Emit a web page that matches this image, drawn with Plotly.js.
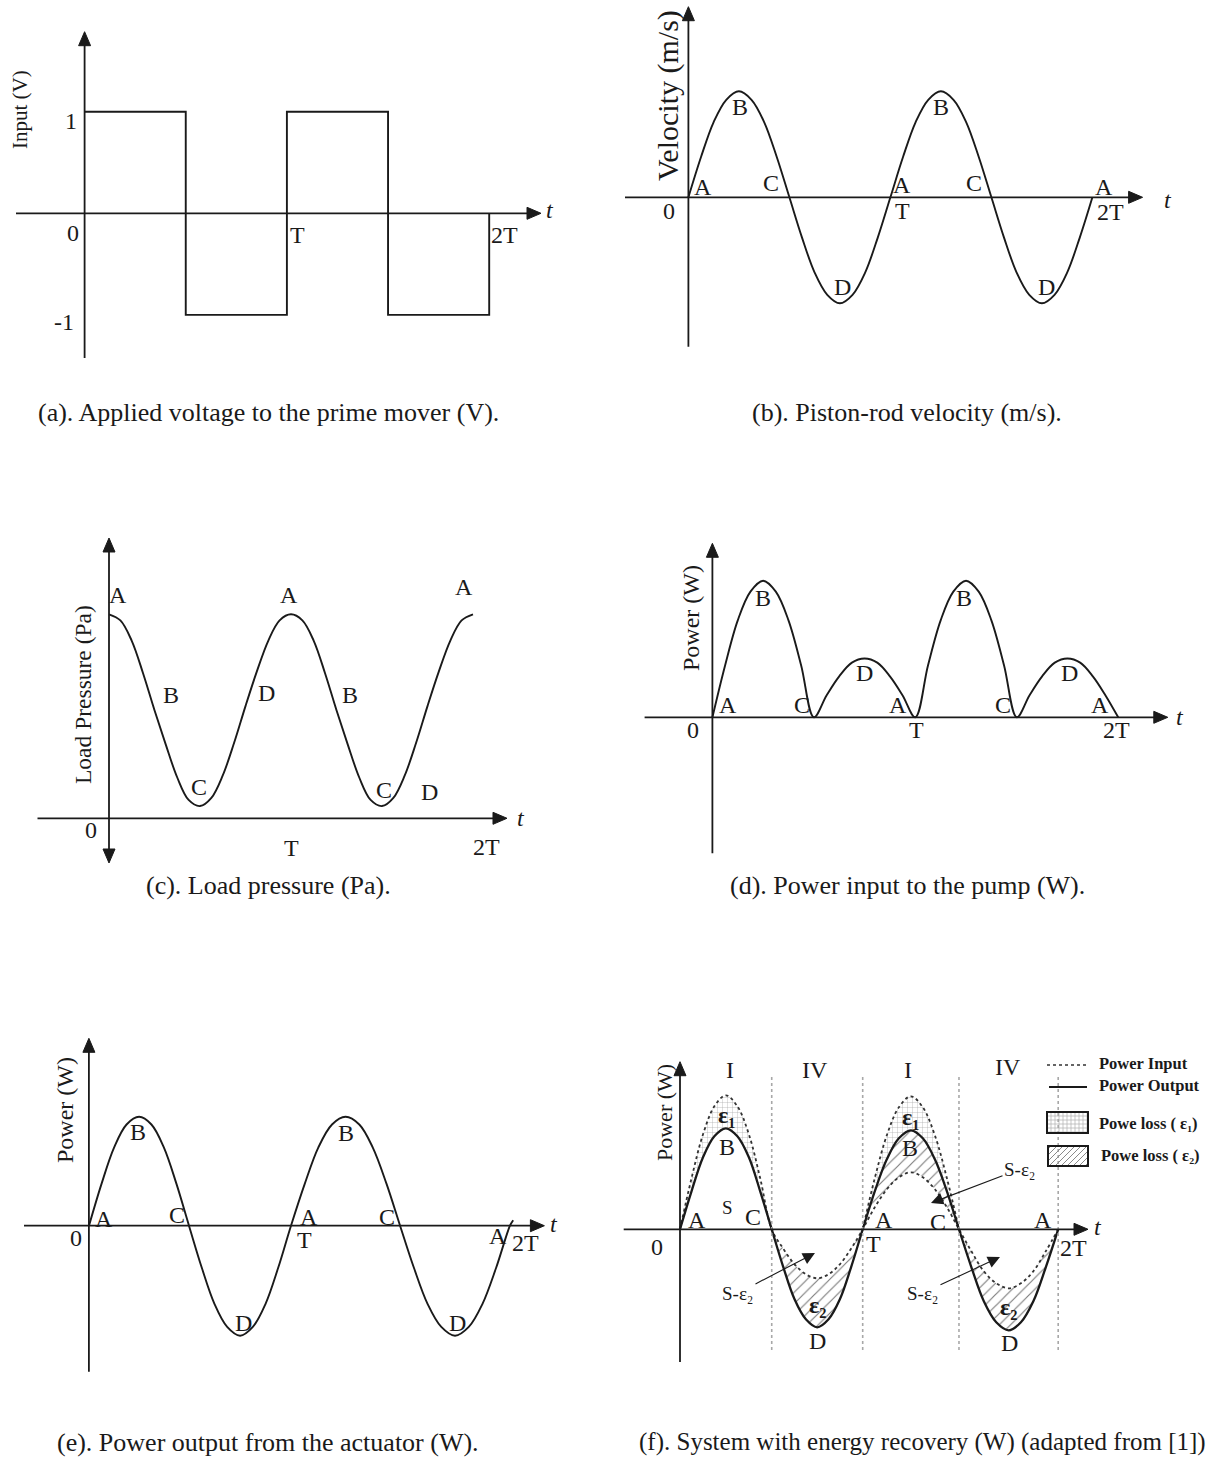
<!DOCTYPE html>
<html><head><meta charset="utf-8">
<script src="https://cdn.plot.ly/plotly-3.0.1.min.js"></script>
<style>html,body{margin:0;padding:0;background:#fff}#chart{width:1207px;height:1459px}</style>
</head><body><div id="chart"></div>
<script>
// ---------------- DATA ----------------
// time in units of the period T
const tA = [0, 0.5, 1, 1.5, 2];
const inputV = [1, -1, 1, -1, 0];

const tUniform = [0,0.0625,0.125,0.1875,0.25,0.3125,0.375,0.4375,0.5,0.5625,0.625,0.6875,0.75,0.8125,0.875,0.9375,1,
  1.0625,1.125,1.1875,1.25,1.3125,1.375,1.4375,1.5,1.5625,1.625,1.6875,1.75,1.8125,1.875,1.9375,2];

const velocity = [0,0.38,0.71,0.92,1,0.92,0.71,0.38,0,-0.38,-0.71,-0.92,-1,-0.92,-0.71,-0.38,0,
  0.38,0.71,0.92,1,0.92,0.71,0.38,0,-0.38,-0.71,-0.92,-1,-0.92,-0.71,-0.38,0];

const pressure = [1.00,0.97,0.87,0.71,0.53,0.36,0.20,0.09,0.06,0.10,0.21,0.37,0.55,0.72,0.87,0.97,1.00,
  0.97,0.87,0.71,0.53,0.36,0.20,0.09,0.06,0.10,0.21,0.37,0.55,0.72,0.87,0.97,1.00];

const powerIn = [0,0.38,0.71,0.92,1,0.92,0.71,0.38,0,0.16,0.30,0.40,0.43,0.40,0.30,0.16,0,
  0.38,0.71,0.92,1,0.92,0.71,0.38,0,0.16,0.30,0.40,0.43,0.40,0.30,0.16,0];

const tE = [0,0.062,0.124,0.186,0.248,0.309,0.371,0.433,0.495,0.558,0.621,0.684,0.748,0.811,0.874,0.937,1.0,
  1.068,1.135,1.203,1.270,1.338,1.405,1.473,1.540,1.608,1.676,1.744,1.812,1.880,1.948,2.016,2.084,2.100];
const powerOut = [0,0.38,0.71,0.92,0.99,0.92,0.71,0.38,0,-0.38,-0.71,-0.92,-1,-0.92,-0.71,-0.38,0,
  0.38,0.71,0.92,0.99,0.92,0.71,0.38,0,-0.38,-0.71,-0.92,-1,-0.92,-0.71,-0.38,0,0.05];

const tF = [0,0.063,0.126,0.188,0.251,0.314,0.377,0.439,0.502,0.564,0.627,0.689,0.751,0.813,0.875,0.938,1.0,
  1.066,1.132,1.198,1.264,1.329,1.395,1.461,1.527,1.595,1.663,1.731,1.799,1.866,1.934,2.002,2.070];
const outF = [0,0.38,0.72,0.93,1.01,0.93,0.72,0.38,0,-0.37,-0.70,-0.90,-0.98,-0.90,-0.70,-0.37,0,
  0.38,0.70,0.91,0.99,0.91,0.70,0.38,0,-0.38,-0.72,-0.93,-1.01,-0.93,-0.72,-0.38,0];
const inF = [0,0.51,0.95,1.23,1.34,1.23,0.95,0.51,0,-0.19,-0.35,-0.45,-0.49,-0.45,-0.35,-0.19,0,
  0.22,0.40,0.52,0.57,0.52,0.40,0.22,0,-0.22,-0.42,-0.54,-0.59,-0.54,-0.42,-0.22,0];
const refF = [0,0.51,0.94,1.22,1.33,1.22,0.94,0.51,0];   // upper dotted curve in the 2nd "I" region

const captions = [
  "(a). Applied voltage to the prime mover (V).",
  "(b). Piston-rod velocity (m/s).",
  "(c). Load pressure (Pa).",
  "(d). Power input to the pump (W).",
  "(e). Power output from the actuator (W).",
  "(f). System with energy recovery (W) (adapted from [1])"
];

// ---------------- LAYOUT HELPERS ----------------
const W = 1207, H = 1459;
const SERIF = "Liberation Serif, Times New Roman, serif";
const INK = "#1a1a1a";
const LBL = 24;
const panels = {
  1: {ox:84.6,  oy:213.3,  sx:202.3, sy:101.6, rect:[0,600,0,400]},
  2: {ox:688.4, oy:197.3,  sx:202,   sy:106,   rect:[600,1207,0,400]},
  3: {ox:109,   oy:818.3,  sx:182,   sy:204,   rect:[0,600,500,900]},
  4: {ox:712.4, oy:717.3,  sx:202.9, sy:136.6, rect:[600,1207,500,900]},
  5: {ox:89,    oy:1225.7, sx:202,   sy:110,   rect:[0,600,1000,1420]},
  6: {ox:680,   oy:1229.3, sx:182.7, sy:100,   rect:[600,1207,1000,1420]}
};
const layout = {
  width: W, height: H, margin:{l:0,r:0,t:0,b:0},
  paper_bgcolor:'#fff', plot_bgcolor:'rgba(0,0,0,0)', showlegend:false,
  annotations: [], shapes: []
};
for (const n in panels) {
  const p = panels[n], r = p.rect;
  const sfx = n === '1' ? '' : n;
  layout['xaxis'+sfx] = {domain:[r[0]/W, r[1]/W], range:[(r[0]-p.ox)/p.sx, (r[1]-p.ox)/p.sx],
    visible:false, fixedrange:true, anchor:'y'+sfx};
  layout['yaxis'+sfx] = {domain:[1-r[3]/H, 1-r[2]/H], range:[(p.oy-r[3])/p.sy, (p.oy-r[2])/p.sy],
    visible:false, fixedrange:true, anchor:'x'+sfx};
}
function ax(n){ return n===1 ? {xaxis:'x', yaxis:'y'} : {xaxis:'x'+n, yaxis:'y'+n}; }
function txt(x, y, s, size, opt) {
  opt = opt || {};
  const font = {family:SERIF, size:size||LBL, color:INK};
  if (opt.italic) font.style = 'italic';
  if (opt.bold) font.weight = 'bold';
  const a = {xref:'paper', yref:'paper', x:x/W, y:1-y/H, text:s,
    showarrow:false, xanchor:opt.xanchor||'center', yanchor:'middle', font:font};
  if (opt.textangle) a.textangle = opt.textangle;
  layout.annotations.push(a);
}
function P(x, y){ return (x/W).toFixed(5) + ',' + (1-y/H).toFixed(5); }
function line(x0,y0,x1,y1,color,width,dash){
  layout.shapes.push({type:'line', xref:'paper', yref:'paper', x0:x0/W, y0:1-y0/H, x1:x1/W, y1:1-y1/H,
    line:{color:color, width:width, dash:dash||'solid'}});
}
function head(x, y, dir, L, Hw) { // filled triangle arrowhead, tip at (x,y)
  L = L || 14; Hw = Hw || 6;
  let pts;
  if (dir === 'up')    pts = [[x,y],[x-Hw,y+L],[x+Hw,y+L]];
  if (dir === 'down')  pts = [[x,y],[x-Hw,y-L],[x+Hw,y-L]];
  if (dir === 'right') pts = [[x,y],[x-L,y-Hw],[x-L,y+Hw]];
  layout.shapes.push({type:'path', xref:'paper', yref:'paper',
    path:'M' + pts.map(p => P(p[0],p[1])).join('L') + 'Z', fillcolor:INK, line:{color:INK, width:1}});
}
function axisV(x, yBottom, yTop, both){
  line(x, yBottom - (both?10:0), x, yTop+10, INK, 1.8);
  head(x, yTop, 'up'); if (both) head(x, yBottom, 'down');
}
function axisH(y, xLeft, xRight){ line(xLeft, y, xRight-10, y, INK, 1.8); head(xRight, y, 'right'); }

// ---------------- TRACES ----------------
const traces = [];
const curve = {color:INK, width:1.9, shape:'spline', smoothing:1};
traces.push(Object.assign({x:tA, y:inputV, mode:'lines', line:{color:INK, width:1.9, shape:'hv'}, hoverinfo:'skip'}, ax(1)));
traces.push(Object.assign({x:tUniform, y:velocity, mode:'lines', line:curve, hoverinfo:'skip'}, ax(2)));
traces.push(Object.assign({x:tUniform, y:pressure, mode:'lines', line:curve, hoverinfo:'skip'}, ax(3)));
traces.push(Object.assign({x:tUniform, y:powerIn, mode:'lines', line:curve, hoverinfo:'skip'}, ax(4)));
traces.push(Object.assign({x:tE, y:powerOut, mode:'lines', line:curve, hoverinfo:'skip'}, ax(5)));

// panel f: pattern fills between curves
const GRID = {shape:'+', size:5, solidity:0.12, fgcolor:'#9a9a9a', bgcolor:'rgba(255,255,255,0)'};
const HATCH = {shape:'/', size:8, solidity:0.14, fgcolor:'#7a7a7a', bgcolor:'rgba(255,255,255,0)'};
function seg(a, i0, i1){ return a.slice(i0, i1+1); }
function fillPair(xs, yBase, yTop, pattern) {
  traces.push(Object.assign({x:xs, y:yBase, mode:'lines', line:{width:0, shape:'spline', color:'rgba(0,0,0,0)'}, hoverinfo:'skip'}, ax(6)));
  traces.push(Object.assign({x:xs, y:yTop, mode:'lines', line:{width:0, shape:'spline', color:'rgba(0,0,0,0)'},
    fill:'tonexty', fillcolor:'rgba(0,0,0,0)', fillpattern:pattern, hoverinfo:'skip'}, ax(6)));
}
fillPair(seg(tF,0,8),   seg(outF,0,8),   seg(inF,0,8),   GRID);
fillPair(seg(tF,8,16),  seg(outF,8,16),  seg(inF,8,16),  HATCH);
fillPair(seg(tF,16,24), seg(outF,16,24), refF,           GRID);
fillPair(seg(tF,16,24), seg(inF,16,24),  seg(outF,16,24), HATCH);
fillPair(seg(tF,24,32), seg(outF,24,32), seg(inF,24,32), HATCH);

traces.push(Object.assign({x:tF, y:inF, mode:'lines', line:{color:'#333', width:1.8, dash:'dot', shape:'spline'}, hoverinfo:'skip'}, ax(6)));
traces.push(Object.assign({x:seg(tF,16,24), y:refF, mode:'lines', line:{color:'#333', width:1.8, dash:'dot', shape:'spline'}, hoverinfo:'skip'}, ax(6)));
traces.push(Object.assign({x:tF, y:outF, mode:'lines', line:{color:INK, width:2.3, shape:'spline'}, hoverinfo:'skip'}, ax(6)));

// vertical dotted separators in (f), at the zero crossings of the data
[8,16,24,32].forEach(i => layout.shapes.push({type:'line', xref:'x6', yref:'paper', x0:tF[i], x1:tF[i],
  y0:1-1077/H, y1:1-1353/H, line:{color:'#a8a8a8', width:1.6, dash:'dot'}}));

// ---------------- AXES (lines with arrowheads) ----------------
axisV(84.6,358,31.7);   axisH(213.3,16,541);
axisV(688.4,346.7,6.7); axisH(197.3,625,1142.6);
axisV(109,863,538,true); axisH(818.3,37.5,507);
axisV(712.4,853.3,543.3); axisH(717.3,644.6,1167.8);
axisV(88.9,1371.7,1038.3); axisH(1225.7,24,544.4);
axisV(680,1362,1061.7); axisH(1229.3,623.7,1088);

// ---------------- TEXT ----------------
const IT = {italic:true};
// (a)
txt(71,121,'1'); txt(64,322,'-1'); txt(73,233,'0'); txt(297,235,'T'); txt(505,235,'2T'); txt(550,210,'t',LBL,IT);
txt(20,110,'Input (V)',21,{textangle:-90});
// (b)
[['A',703,187],['B',740,107],['C',771,183],['D',842,287],['A',902,185],['T',902,211],['B',941,107],
 ['C',974,183],['D',1046,287],['A',1104,187],['2T',1110,212],['0',669,211]].forEach(l=>txt(l[1],l[2],l[0]));
txt(1168,200,'t',LBL,IT); txt(668,96,'Velocity (m/s)',30,{textangle:-90});
// (c)
[['A',118,595],['A',289,595],['A',464,587],['B',171,695],['D',266,693],['B',350,695],['C',199,787],
 ['C',384,790],['D',429,792],['T',291,848],['2T',486,847],['0',91,830]].forEach(l=>txt(l[1],l[2],l[0]));
txt(521,818,'t',LBL,IT); txt(83,695,'Load Pressure (Pa)',23.5,{textangle:-90});
// (d)
[['A',728,705],['B',763,598],['C',802,705],['D',865,673],['A',898,705],['T',916,730],['B',964,598],
 ['C',1003,705],['D',1069,673],['A',1100,705],['2T',1116,730],['0',693,730]].forEach(l=>txt(l[1],l[2],l[0]));
txt(1180,717,'t',LBL,IT); txt(691,618,'Power (W)',24,{textangle:-90});
// (e)
[['A',104,1219],['B',138,1132],['C',177,1215],['D',243,1323],['A',309,1217],['T',304,1240],['B',346,1133],
 ['C',387,1217],['D',457,1323],['A',498,1236],['2T',525,1243],['0',76,1238]].forEach(l=>txt(l[1],l[2],l[0]));
txt(554,1224,'t',LBL,IT); txt(65,1110,'Power (W)',24,{textangle:-90});
// (f)
[['I',730,1070],['IV',815,1070],['I',908,1070],['IV',1008,1067],['B',727,1147],['B',910,1148],
 ['A',697,1220],['C',753,1217],['A',884,1220],['C',938,1222],['A',1043,1220],['0',657,1247],
 ['T',873,1244],['2T',1073,1248],['D',817,1341],['D',1010,1343]].forEach(l=>txt(l[1],l[2],l[0]));
txt(727,1207,'S',19);
txt(726,1115,'ε₁',24,{bold:true}); txt(910,1117,'ε₁',24,{bold:true});
txt(817,1305,'ε₂',24,{bold:true}); txt(1008,1307,'ε₂',24,{bold:true});
txt(1098,1227,'t',LBL,IT);
txt(664,1113,'Power (W)',22,{textangle:-90});
function sArrow(tx,ty,hx,hy){
  layout.annotations.push({xref:'paper', yref:'paper', x:hx/W, y:1-hy/H, ax:tx-hx, ay:ty-hy,
    axref:'pixel', ayref:'pixel', text:'S-ε₂', showarrow:true, arrowhead:2, arrowsize:2.2,
    arrowwidth:1.1, arrowcolor:INK, standoff:0, font:{family:SERIF, size:19, color:INK}});
}
sArrow(738,1293,815,1253); sArrow(923,1293,1000,1257); sArrow(1020,1169,931,1203);

// legend of (f), drawn by hand
line(1047,1065,1087,1065,'#333',1.6,'dot');
line(1049,1087,1087,1087,INK,2.2);
txt(1097,1063,'Power Input',16.5,{xanchor:'left', bold:true});
txt(1097,1085,'Power Output',16.5,{xanchor:'left', bold:true});
txt(1097,1123,'Powe loss ( ε₁)',16.5,{xanchor:'left', bold:true});
txt(1099,1155,'Powe loss ( ε₂)',16.5,{xanchor:'left', bold:true});
(function(){
  const g = [1047,1088,1112,1133];
  for (let x=g[0]+4; x<g[1]; x+=4) line(x,g[2],x,g[3],'#b0b0b0',0.7);
  for (let y=g[2]+4; y<g[3]; y+=4) line(g[0],y,g[1],y,'#b0b0b0',0.7);
  layout.shapes.push({type:'rect', xref:'paper', yref:'paper', x0:g[0]/W, x1:g[1]/W, y0:1-g[3]/H, y1:1-g[2]/H,
    line:{color:INK, width:2}});
  const h = [1048,1088,1146,1166], hh = h[3]-h[2];
  for (let c=h[0]-hh+3; c<h[1]; c+=6) {
    let xa=c, ya=h[3], xb=c+hh, yb=h[2];
    if (xa<h[0]) { ya = h[3]-(h[0]-xa); xa=h[0]; }
    if (xb>h[1]) { yb = h[2]+(xb-h[1]); xb=h[1]; }
    if (xb>xa) line(xa,ya,xb,yb,'#8a8a8a',1);
  }
  layout.shapes.push({type:'rect', xref:'paper', yref:'paper', x0:h[0]/W, x1:h[1]/W, y0:1-h[3]/H, y1:1-h[2]/H,
    line:{color:INK, width:2}});
})();

// captions
txt(268,413,captions[0],26); txt(907,413,captions[1],26);
txt(268,885,captions[2],26); txt(907,885,captions[3],26);
txt(268,1442,captions[4],26); txt(922,1442,captions[5],25);

Plotly.newPlot('chart', traces, layout, {staticPlot:true, displayModeBar:false});
</script>
</body></html>
